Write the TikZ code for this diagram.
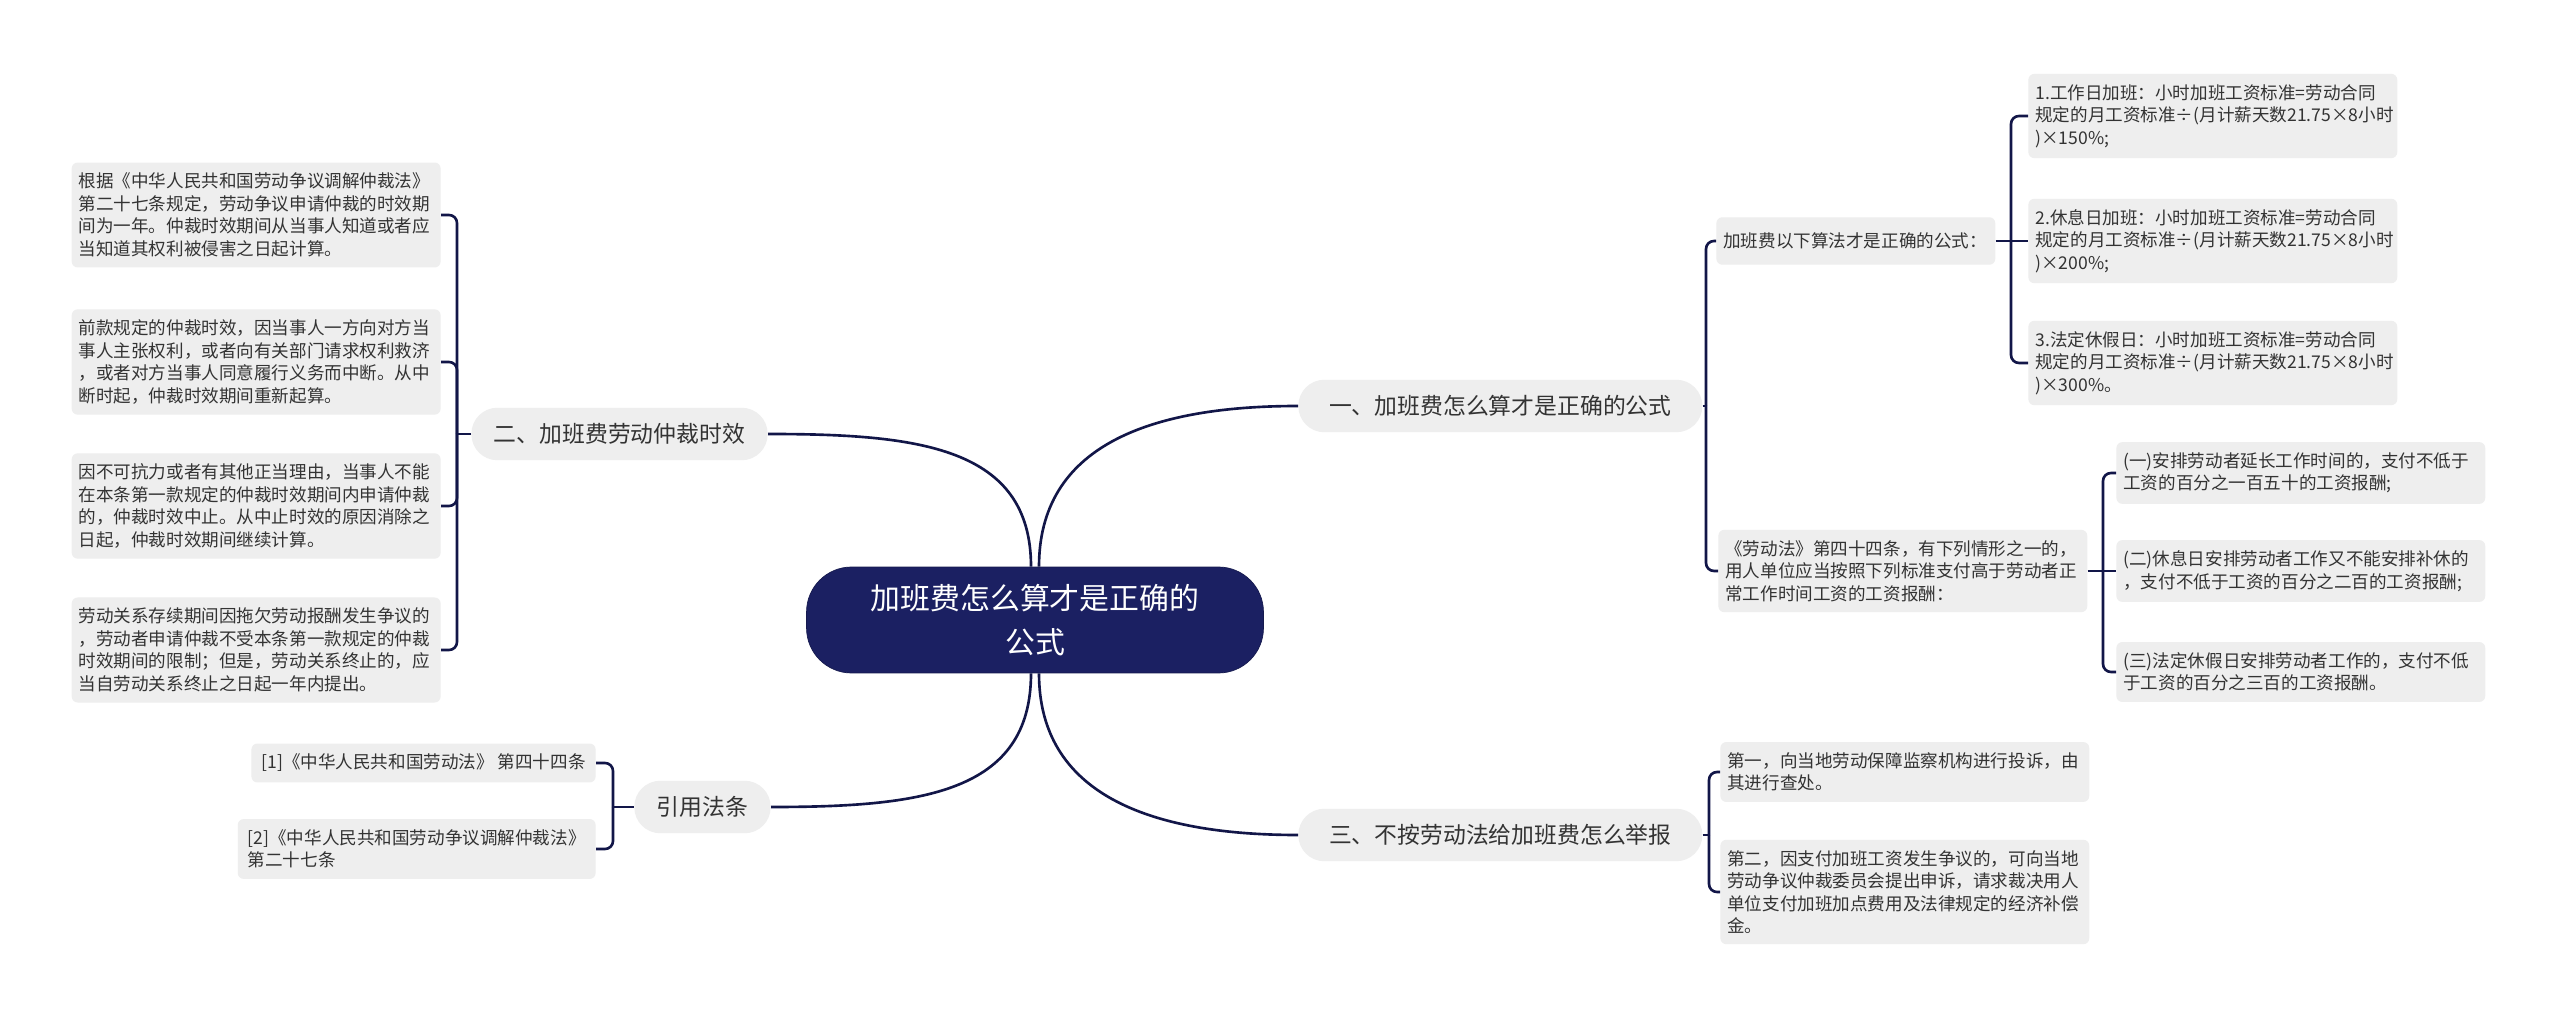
\documentclass[tikz,border=0pt]{standalone}
\usepackage{fontspec}
\setmainfont{Noto Sans CJK SC}
\usepackage{tikz}
\definecolor{mapNavy}{RGB}{27, 32, 98}
\definecolor{lineNavy}{RGB}{18, 22, 72}
\definecolor{boxGray}{RGB}{238, 238, 238}
\definecolor{textGray}{RGB}{51, 51, 51}

\begin{document}
\begin{tikzpicture}
  [
    x=0.02cm, y=-0.02cm,
    Root/.style={rounded corners=0.9cm, draw=mapNavy!80!black, fill=mapNavy, text=white, font=\fontsize{17}{25}\selectfont, align=center, minimum width=9.14cm, minimum height=2.12cm},
    Topic/.style={rounded corners=0.52cm, fill=boxGray, text=textGray, font=\fontsize{13}{16}\selectfont, inner xsep=0.45cm, minimum height=1.05cm},
    Leaf/.style={rounded corners=0.12cm, fill=boxGray, text=textGray, font=\fontsize{10}{12.8}\selectfont, align=left, text width=7.1cm, inner xsep=0.14cm, inner ysep=6pt},
    Cite/.style={rounded corners=0.12cm, fill=boxGray, text=textGray, font=\fontsize{10}{12.8}\selectfont, align=left, inner xsep=0.2cm, inner ysep=6pt},
    Link/.style={draw=lineNavy, line width=1.5pt},
    Bracket/.style={draw=lineNavy, line width=1.5pt, rounded corners=0.16cm}
  ]
  \fill[white] (0,0) rectangle (2560,1023);
  \useasboundingbox (0,0) rectangle (2560,1023);

  % Nodes
  \node[Root] (root) at (1035, 620) {加班费怎么算才是正确的\\公式};

  \node[Topic, anchor=west, minimum width=8.08cm] (t1) at (1298, 406) {一、加班费怎么算才是正确的公式};
  \node[Topic, anchor=west, minimum width=8.08cm] (t3) at (1298, 835) {三、不按劳动法给加班费怎么举报};
  \node[Topic, anchor=east] (t2) at (768, 434) {二、加班费劳动仲裁时效};
  \node[Topic, anchor=east] (t4) at (771, 807) {引用法条};

  \node[Leaf, anchor=west, text width=5.3cm, minimum height=0.95cm] (a1) at (1716, 241) {加班费以下算法才是正确的公式：};
  \node[Leaf, anchor=west] (a2) at (1718, 571) {《劳动法》第四十四条，有下列情形之一的，\\用人单位应当按照下列标准支付高于劳动者正\\常工作时间工资的工资报酬：};

  \node[Leaf, anchor=west] (c1) at (2028, 116) {1.工作日加班：小时加班工资标准=劳动合同\\规定的月工资标准÷(月计薪天数21.75×8小时\\)×150\%;};
  \node[Leaf, anchor=west] (c2) at (2028, 241) {2.休息日加班：小时加班工资标准=劳动合同\\规定的月工资标准÷(月计薪天数21.75×8小时\\)×200\%;};
  \node[Leaf, anchor=west] (c3) at (2028, 363) {3.法定休假日：小时加班工资标准=劳动合同\\规定的月工资标准÷(月计薪天数21.75×8小时\\)×300\%。};

  \node[Leaf, anchor=west] (d1) at (2116, 473) {(一)安排劳动者延长工作时间的，支付不低于\\工资的百分之一百五十的工资报酬;};
  \node[Leaf, anchor=west] (d2) at (2116, 571) {(二)休息日安排劳动者工作又不能安排补休的\\，支付不低于工资的百分之二百的工资报酬;};
  \node[Leaf, anchor=west] (d3) at (2116, 672) {(三)法定休假日安排劳动者工作的，支付不低\\于工资的百分之三百的工资报酬。};

  \node[Leaf, anchor=west] (e1) at (1720, 772) {第一，向当地劳动保障监察机构进行投诉，由\\其进行查处。};
  \node[Leaf, anchor=west] (e2) at (1720, 892) {第二，因支付加班工资发生争议的，可向当地\\劳动争议仲裁委员会提出申诉，请求裁决用人\\单位支付加班加点费用及法律规定的经济补偿\\金。};

  \node[Leaf, anchor=east] (f1) at (441, 215) {根据《中华人民共和国劳动争议调解仲裁法》\\第二十七条规定，劳动争议申请仲裁的时效期\\间为一年。仲裁时效期间从当事人知道或者应\\当知道其权利被侵害之日起计算。};
  \node[Leaf, anchor=east] (f2) at (441, 362) {前款规定的仲裁时效，因当事人一方向对方当\\事人主张权利，或者向有关部门请求权利救济\\，或者对方当事人同意履行义务而中断。从中\\断时起，仲裁时效期间重新起算。};
  \node[Leaf, anchor=east] (f3) at (441, 506) {因不可抗力或者有其他正当理由，当事人不能\\在本条第一款规定的仲裁时效期间内申请仲裁\\的，仲裁时效中止。从中止时效的原因消除之\\日起，仲裁时效期间继续计算。};
  \node[Leaf, anchor=east] (f4) at (441, 650) {劳动关系存续期间因拖欠劳动报酬发生争议的\\，劳动者申请仲裁不受本条第一款规定的仲裁\\时效期间的限制；但是，劳动关系终止的，应\\当自劳动关系终止之日起一年内提出。};

  \node[Cite, anchor=east] (g1) at (596, 763) {[1]《中华人民共和国劳动法》 第四十四条};
  \node[Cite, anchor=east] (g2) at (596, 849) {[2]《中华人民共和国劳动争议调解仲裁法》\\第二十七条};

  % Junctions
  \coordinate (j1) at (1706, 406);
  \coordinate (j2) at (2011, 241);
  \coordinate (j3) at (2103, 571);
  \coordinate (j4) at (1709, 835);
  \coordinate (j5) at (457, 434);
  \coordinate (j6) at (613, 807);

  % Lines
  \draw[Link] ([xshift=0.08cm]root.north) .. controls +(0,-120) and +(-150,0) .. (t1.west);
  \draw[Link] ([xshift=-0.08cm]root.north) .. controls +(0,-120) and +(150,0) .. (t2.east);
  \draw[Link] ([xshift=-0.08cm]root.south) .. controls +(0,120) and +(150,0) .. (t4.east);
  \draw[Link] ([xshift=0.08cm]root.south) .. controls +(0,120) and +(-150,0) .. (t3.west);

  \draw[Link] (t1.east) -- (j1);
  \foreach \c in {a1,a2} \draw[Bracket] (j1) |- (\c.west);

  \draw[Link] (a1.east) -- (j2) -- (c2.west);
  \foreach \c in {c1,c3} \draw[Bracket] (j2) |- (\c.west);

  \draw[Link] (a2.east) -- (j3) -- (d2.west);
  \foreach \c in {d1,d3} \draw[Bracket] (j3) |- (\c.west);

  \draw[Link] (t3.east) -- (j4);
  \foreach \c in {e1,e2} \draw[Bracket] (j4) |- (\c.west);

  \draw[Link] (t2.west) -- (j5);
  \foreach \c in {f1,f2,f3,f4} \draw[Bracket] (j5) |- (\c.east);

  \draw[Link] (t4.west) -- (j6);
  \foreach \c in {g1,g2} \draw[Bracket] (j6) |- (\c.east);

\end{tikzpicture}
\end{document}
